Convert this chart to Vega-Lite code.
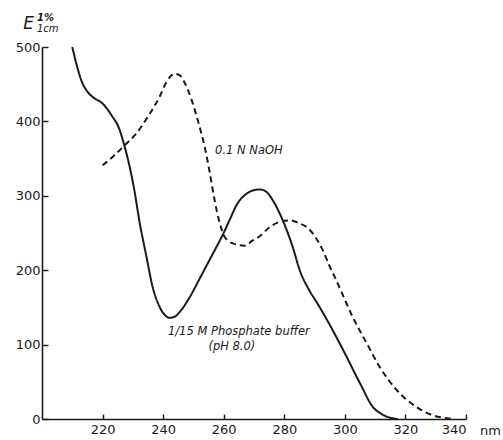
{
  "$schema": "https://vega.github.io/schema/vega-lite/v6.json",
  "width": 424,
  "height": 372,
  "autosize": "none",
  "padding": {"left": 42, "top": 47, "right": 37, "bottom": 21},
  "background": "white",
  "title": {
    "text": "1%",
    "subtitle": "1cm",
    "anchor": "start",
    "frame": "group",
    "dx": -5,
    "dy": 20,
    "offset": 0,
    "font": "DejaVu Sans",
    "fontSize": 10,
    "fontWeight": "bold",
    "fontStyle": "italic",
    "color": "#1a1a1a",
    "subtitleFont": "DejaVu Sans",
    "subtitleFontSize": 10,
    "subtitleFontStyle": "italic",
    "subtitleColor": "#1a1a1a",
    "subtitlePadding": 1
  },
  "config": {
    "view": {"stroke": null},
    "axis": {
      "grid": false,
      "domainColor": "#1a1a1a",
      "domainWidth": 1.6,
      "tickColor": "#1a1a1a",
      "tickWidth": 1.4,
      "labelFont": "DejaVu Sans",
      "labelFontSize": 13,
      "labelColor": "#1a1a1a",
      "titleFont": "DejaVu Sans",
      "titleColor": "#1a1a1a"
    }
  },
  "datasets": {
    "curves": [
      {"series": "buffer", "nm": 210, "E": 500},
      {"series": "buffer", "nm": 211.5, "E": 475},
      {"series": "buffer", "nm": 213, "E": 455},
      {"series": "buffer", "nm": 215, "E": 440},
      {"series": "buffer", "nm": 217, "E": 432},
      {"series": "buffer", "nm": 220, "E": 424},
      {"series": "buffer", "nm": 223, "E": 408},
      {"series": "buffer", "nm": 225.5, "E": 390},
      {"series": "buffer", "nm": 227.3, "E": 366},
      {"series": "buffer", "nm": 229, "E": 338},
      {"series": "buffer", "nm": 230.6, "E": 305},
      {"series": "buffer", "nm": 232.2, "E": 265},
      {"series": "buffer", "nm": 234.5, "E": 218},
      {"series": "buffer", "nm": 236.5, "E": 178},
      {"series": "buffer", "nm": 238.8, "E": 151},
      {"series": "buffer", "nm": 240.5, "E": 140},
      {"series": "buffer", "nm": 242.1, "E": 136},
      {"series": "buffer", "nm": 244, "E": 138},
      {"series": "buffer", "nm": 245.5, "E": 144},
      {"series": "buffer", "nm": 248.8, "E": 164},
      {"series": "buffer", "nm": 253, "E": 196},
      {"series": "buffer", "nm": 257.7, "E": 232},
      {"series": "buffer", "nm": 259.5, "E": 246},
      {"series": "buffer", "nm": 262, "E": 268},
      {"series": "buffer", "nm": 264.3, "E": 288},
      {"series": "buffer", "nm": 267.6, "E": 303},
      {"series": "buffer", "nm": 270.5, "E": 308},
      {"series": "buffer", "nm": 272, "E": 308.5},
      {"series": "buffer", "nm": 274.2, "E": 305},
      {"series": "buffer", "nm": 276.2, "E": 294},
      {"series": "buffer", "nm": 279.5, "E": 267},
      {"series": "buffer", "nm": 282.8, "E": 231},
      {"series": "buffer", "nm": 285.1, "E": 200},
      {"series": "buffer", "nm": 288.4, "E": 172},
      {"series": "buffer", "nm": 291, "E": 155},
      {"series": "buffer", "nm": 294, "E": 134},
      {"series": "buffer", "nm": 299.4, "E": 93},
      {"series": "buffer", "nm": 305, "E": 48},
      {"series": "buffer", "nm": 309.3, "E": 16},
      {"series": "buffer", "nm": 312, "E": 7},
      {"series": "buffer", "nm": 314, "E": 3},
      {"series": "buffer", "nm": 317.5, "E": 0},
      {"series": "naoh", "nm": 220, "E": 341},
      {"series": "naoh", "nm": 223.3, "E": 352},
      {"series": "naoh", "nm": 227.3, "E": 368},
      {"series": "naoh", "nm": 231.2, "E": 384},
      {"series": "naoh", "nm": 234.9, "E": 406},
      {"series": "naoh", "nm": 238.8, "E": 433},
      {"series": "naoh", "nm": 241.1, "E": 453},
      {"series": "naoh", "nm": 243.8, "E": 464},
      {"series": "naoh", "nm": 245.5, "E": 462},
      {"series": "naoh", "nm": 247.1, "E": 452},
      {"series": "naoh", "nm": 249.4, "E": 429},
      {"series": "naoh", "nm": 251.4, "E": 402},
      {"series": "naoh", "nm": 253.7, "E": 366},
      {"series": "naoh", "nm": 255.4, "E": 331},
      {"series": "naoh", "nm": 257, "E": 294},
      {"series": "naoh", "nm": 258.7, "E": 263},
      {"series": "naoh", "nm": 260.3, "E": 245},
      {"series": "naoh", "nm": 263, "E": 236},
      {"series": "naoh", "nm": 266.9, "E": 233},
      {"series": "naoh", "nm": 269.6, "E": 240},
      {"series": "naoh", "nm": 272, "E": 246},
      {"series": "naoh", "nm": 275.2, "E": 258},
      {"series": "naoh", "nm": 278.5, "E": 265},
      {"series": "naoh", "nm": 281.8, "E": 267},
      {"series": "naoh", "nm": 285, "E": 263},
      {"series": "naoh", "nm": 287.4, "E": 258},
      {"series": "naoh", "nm": 290, "E": 246},
      {"series": "naoh", "nm": 292.7, "E": 227},
      {"series": "naoh", "nm": 295, "E": 205},
      {"series": "naoh", "nm": 297, "E": 188},
      {"series": "naoh", "nm": 299.4, "E": 166},
      {"series": "naoh", "nm": 302.6, "E": 137},
      {"series": "naoh", "nm": 307.2, "E": 102},
      {"series": "naoh", "nm": 311.5, "E": 70},
      {"series": "naoh", "nm": 317.1, "E": 39},
      {"series": "naoh", "nm": 323.7, "E": 16},
      {"series": "naoh", "nm": 329, "E": 5},
      {"series": "naoh", "nm": 333.7, "E": 1},
      {"series": "naoh", "nm": 336, "E": 0}
    ],
    "notes": [
      {"label": "0.1 N NaOH", "nm": 268.3, "E": 360},
      {"label": "1/15 M Phosphate buffer", "nm": 265, "E": 117},
      {"label": "(pH 8.0)", "nm": 262.7, "E": 97}
    ]
  },
  "layer": [
    {
      "data": {"name": "curves"},
      "mark": {"type": "line", "color": "#1a1a1a", "strokeWidth": 2, "interpolate": "monotone", "clip": false},
      "encoding": {
        "x": {
          "field": "nm",
          "type": "quantitative",
          "scale": {"domain": [200, 340], "nice": false, "zero": false},
          "axis": {
            "values": [220, 240, 260, 280, 300, 320, 340],
            "tickSize": -5,
            "labelPadding": 9,
            "title": "nm",
            "titleFontSize": 13,
            "titleFontWeight": "normal",
            "titleX": 448,
            "titleY": 15,
            "titleAlign": "center",
            "titleBaseline": "alphabetic"
          }
        },
        "y": {
          "field": "E",
          "type": "quantitative",
          "scale": {"domain": [0, 500], "nice": false},
          "axis": {
            "values": [0, 100, 200, 300, 400, 500],
            "tickSize": -6,
            "labelPadding": 8,
            "title": "E",
            "titleAngle": 0,
            "titleFontSize": 17,
            "titleFontWeight": "normal",
            "titleFontStyle": "italic",
            "titleX": -14,
            "titleY": -19,
            "titleAlign": "center",
            "titleBaseline": "alphabetic"
          }
        },
        "detail": {"field": "series"},
        "strokeDash": {
          "field": "series",
          "type": "nominal",
          "scale": {"domain": ["buffer", "naoh"], "range": [[1, 0], [6, 4]]},
          "legend": null
        }
      }
    },
    {
      "data": {"name": "notes"},
      "mark": {
        "type": "text",
        "font": "DejaVu Sans",
        "fontStyle": "italic",
        "fontSize": 11.5,
        "color": "#1a1a1a",
        "align": "center",
        "baseline": "middle"
      },
      "encoding": {
        "x": {"field": "nm", "type": "quantitative"},
        "y": {"field": "E", "type": "quantitative"},
        "text": {"field": "label"}
      }
    }
  ]
}
